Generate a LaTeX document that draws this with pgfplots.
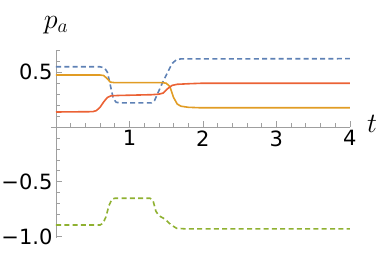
\RequirePackage{fix-cm}
\documentclass[border=0pt]{standalone}
\usepackage{fontspec}
\setmainfont{DejaVu Sans}
\usepackage{pgfplots}
\pgfplotsset{compat=1.18}
\definecolor{mblue}{HTML}{5E81B5}
\definecolor{morange}{HTML}{E19C24}
\definecolor{mgreen}{HTML}{8FB131}
\definecolor{mred}{HTML}{EB6235}
\begin{document}
\begin{tikzpicture}
\path[use as bounding box] (-56pt,-126pt) rectangle (326pt,127pt);
\begin{axis}[
  at={(0,0)}, anchor=origin,
  scale only axis, width=299pt, height=187.2pt,
  xmin=-0.07, xmax=4, ymin=-1.01, ymax=0.7,
  axis lines=middle,
  axis line style={gray!75, line width=0.8pt, -},
  xtick={1,2,3,4}, xticklabels={1,2,3,4},
  ytick={-1,-0.5,0.5}, yticklabels={−1.0,−0.5,0.5},
  minor xtick={0.2,0.4,0.6,0.8,1.2,1.4,1.6,1.8,2.2,2.4,2.6,2.8,3.2,3.4,3.6,3.8},
  minor ytick={-0.9,-0.8,-0.7,-0.6,-0.4,-0.3,-0.2,-0.1,0.1,0.2,0.3,0.4,0.6,0.7},
  tick align=inside,
  major tick length=6pt, minor tick length=3.5pt,
  every tick/.style={gray!75, line width=0.6pt},
  tick label style={font=\fontsize{21}{24}\selectfont, black},
  clip=false,
  every axis plot/.append style={line width=1.6pt},
]
% blue dashed
\addplot[mblue, dash pattern=on 5pt off 3.3pt] coordinates {
  (0,0.55) (0.6,0.55) (0.66,0.54) (0.7,0.50) (0.74,0.38) (0.78,0.26) (0.82,0.225)
  (0.9,0.22) (1.3,0.22) (1.34,0.24) (1.4,0.33) (1.46,0.42) (1.52,0.50) (1.58,0.58)
  (1.64,0.615) (1.7,0.622) (4,0.624)
};
% orange solid
\addplot[morange] coordinates {
  (0,0.475) (0.6,0.475) (0.65,0.47) (0.7,0.44) (0.74,0.41) (0.8,0.405) (1.45,0.405)
  (1.5,0.40) (1.55,0.37) (1.6,0.27) (1.65,0.21) (1.7,0.19) (1.8,0.18) (1.95,0.176) (4,0.176)
};
% red solid
\addplot[mred] coordinates {
  (0,0.137) (0.5,0.14) (0.55,0.15) (0.6,0.18) (0.65,0.23) (0.7,0.27) (0.75,0.285)
  (0.85,0.288) (1.3,0.295) (1.4,0.30) (1.46,0.31) (1.52,0.35) (1.58,0.38) (1.65,0.39)
  (1.8,0.395) (2,0.40) (4,0.40)
};
% green dashed
\addplot[mgreen, dash pattern=on 5pt off 3.3pt] coordinates {
  (0,-0.895) (0.6,-0.895) (0.64,-0.88) (0.68,-0.82) (0.72,-0.72) (0.76,-0.66) (0.8,-0.651)
  (1.28,-0.651) (1.32,-0.67) (1.36,-0.77) (1.4,-0.81) (1.48,-0.84) (1.56,-0.89)
  (1.64,-0.925) (1.75,-0.93) (4,-0.93)
};
\end{axis}
\node at (0pt,102pt) {\fontsize{28}{30}\selectfont $p_a$};
\node at (316pt,3pt) {\fontsize{28}{30}\selectfont $t$};
\end{tikzpicture}
\end{document}
